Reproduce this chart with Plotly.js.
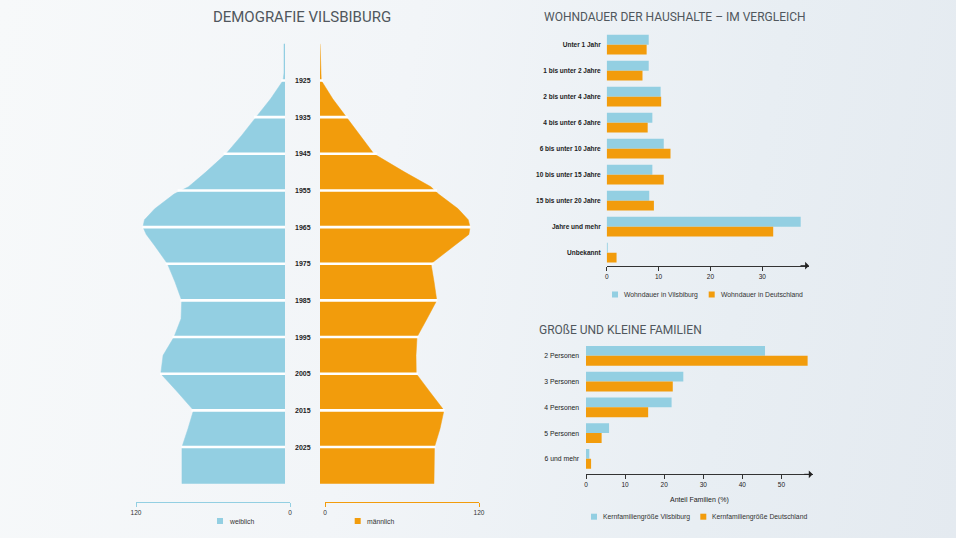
<!DOCTYPE html>
<html>
<head>
<meta charset="utf-8">
<script src="https://cdn.plot.ly/plotly-3.0.1.min.js"></script>
<style>
  html, body { margin:0; padding:0; }
  body { width:956px; height:538px; background: linear-gradient(100deg, #f7f9fa 0%, #f2f5f8 40%, #e8eef3 75%, #e4eaf0 100%); }
  #chart { width:956px; height:538px; }
</style>
</head>
<body>
<div id="chart"></div>
<script>
// ---------- DATA ----------
// Population pyramid (profile by birth year)
const pyrYears   = [1915, 1923, 1925, 1930, 1935, 1940, 1945, 1950, 1954, 1956, 1960, 1963, 1965, 1967, 1970, 1975, 1980, 1985, 1990, 1995, 2000, 2005, 2010, 2015, 2020, 2025, 2035];
const female     = [0.8,  0.8,  1.5,  11.2, 22.6, 33.8, 46.0, 61.7, 75.2, 86.5, 101.5, 109.5, 110.7, 108.1, 101.7, 91.6, 85.7, 80.5, 81.0, 86.5, 95.0, 96.8, 83.8, 71.3, 75.6, 80.3, 80.3];
const male       = [0.0,  0.6,  1.0,  9.9,  20.6, 31.0, 42.0, 66.0, 86.4, 92.4, 107.6, 115.5, 116.9, 116.0, 105.0, 86.5, 88.9, 91.0, 83.4, 75.6, 74.8, 75.0, 85.7, 96.6, 93.5, 89.2, 88.8];
const yearTicks  = [1925, 1935, 1945, 1955, 1965, 1975, 1985, 1995, 2005, 2015, 2025];
const pyrAxisTicks = [0, 120];
const pyrNames   = ['weiblich', 'männlich'];

// Wohndauer der Haushalte
const durCats    = ['Unter 1 Jahr', '1 bis unter 2 Jahre', '2 bis unter 4 Jahre', '4 bis unter 6 Jahre', '6 bis unter 10 Jahre', '10 bis unter 15 Jahre', '15 bis unter 20 Jahre', 'Jahre und mehr', 'Unbekannt'];
const durVils    = [8.1, 8.1, 10.4, 8.8, 11.0, 8.8, 8.2, 37.4, 0.2];
const durDeu     = [7.7, 6.9, 10.5, 7.9, 12.3, 11.0, 9.1, 32.1, 1.9];
const durNames   = ['Wohndauer in Vilsbiburg', 'Wohndauer in Deutschland'];
const durTicks   = [0, 10, 20, 30];

// Große und kleine Familien
const famCats    = ['2 Personen', '3 Personen', '4 Personen', '5 Personen', '6 und mehr'];
const famVils    = [45.8, 24.9, 21.9, 5.9, 0.85];
const famDeu     = [56.7, 22.2, 15.9, 4.0, 1.3];
const famNames   = ['Kernfamiliengröße Vilsbiburg', 'Kernfamiliengröße Deutschland'];
const famTicks   = [0, 10, 20, 30, 40, 50];

// ---------- STYLE ----------
const BLUE = '#93cfe2';
const ORANGE = '#f29c0c';
const W = 956, H = 538;
const px = x => x / W;
const py = y => 1 - y / H;
const FONT = 'Liberation Sans, Arial, sans-serif';
const TITLEFONT = 'Roboto, Open Sans, sans-serif';
const TITLECOLOR = '#50575d';

function interp(xs, ys, x) {
  for (let i = 0; i < xs.length - 1; i++) {
    if (x >= xs[i] && x <= xs[i + 1]) {
      const t = (x - xs[i]) / (xs[i + 1] - xs[i]);
      return ys[i] + t * (ys[i + 1] - ys[i]);
    }
  }
  return 0;
}
function sepTrace(vals, xaxis) {
  const xs = [], ys = [];
  yearTicks.forEach(yr => {
    const w = Math.max(interp(pyrYears, vals, yr - 0.4), interp(pyrYears, vals, yr), interp(pyrYears, vals, yr + 0.4)) + 0.6;
    xs.push(0, w, null); ys.push(yr, yr, null);
  });
  return { x: xs, y: ys, xaxis: xaxis, yaxis: 'y', type: 'scatter', mode: 'lines',
           line: { color: '#ffffff', width: 2.6 }, hoverinfo: 'skip', showlegend: false, connectgaps: false };
}

const data = [
  { x: female, y: pyrYears, xaxis: 'x', yaxis: 'y', type: 'scatter', mode: 'lines', fill: 'tozerox',
    fillcolor: BLUE, line: { color: BLUE, width: 0.5 }, name: pyrNames[0], showlegend: false },
  { x: male, y: pyrYears, xaxis: 'x2', yaxis: 'y', type: 'scatter', mode: 'lines', fill: 'tozerox',
    fillcolor: ORANGE, line: { color: ORANGE, width: 0.5 }, name: pyrNames[1], showlegend: false },
  sepTrace(female, 'x'),
  sepTrace(male, 'x2'),
  { x: [null], y: [null], xaxis: 'x3', yaxis: 'y3', type: 'scatter', showlegend: false, hoverinfo: 'skip' },
  { x: [null], y: [null], xaxis: 'x4', yaxis: 'y3', type: 'scatter', showlegend: false, hoverinfo: 'skip' },
  { y: durCats, x: durVils, type: 'bar', orientation: 'h', xaxis: 'x5', yaxis: 'y5', name: durNames[0],
    marker: { color: BLUE }, showlegend: false },
  { y: durCats, x: durDeu, type: 'bar', orientation: 'h', xaxis: 'x5', yaxis: 'y5', name: durNames[1],
    marker: { color: ORANGE }, showlegend: false },
  { y: famCats, x: famVils, type: 'bar', orientation: 'h', xaxis: 'x6', yaxis: 'y6', name: famNames[0],
    marker: { color: BLUE }, showlegend: false },
  { y: famCats, x: famDeu, type: 'bar', orientation: 'h', xaxis: 'x6', yaxis: 'y6', name: famNames[1],
    marker: { color: ORANGE }, showlegend: false }
];

const annotations = [];
const shapes = [];

// year labels
yearTicks.forEach(yr => annotations.push({
  text: String(yr), x: px(303), xref: 'paper', y: yr, yref: 'y', showarrow: false,
  xanchor: 'center', yanchor: 'middle', font: { family: FONT, size: 7, color: '#222', weight: 700 }
}));

// sub titles
annotations.push({ text: 'WOHNDAUER DER HAUSHALTE – IM VERGLEICH', x: px(542), y: py(17), xref: 'paper', yref: 'paper',
  xanchor: 'left', yanchor: 'middle', showarrow: false, font: { family: TITLEFONT, size: 12, color: TITLECOLOR } });
annotations.push({ text: 'GROßE UND KLEINE FAMILIEN', x: px(537), y: py(330), xref: 'paper', yref: 'paper',
  xanchor: 'left', yanchor: 'middle', showarrow: false, font: { family: TITLEFONT, size: 12, color: TITLECOLOR } });

// axis arrows
['5', '6'].forEach(n => annotations.push({
  text: '', x: 1, y: 0, xref: 'x' + n + ' domain', yref: 'y' + n + ' domain', ax: -10, ay: 0,
  showarrow: true, arrowhead: 1, arrowsize: 1.3, arrowwidth: 1, arrowcolor: '#222', standoff: 0
}));

// manual legends
function legendItem(cx, cy, color, label) {
  shapes.push({ type: 'rect', xref: 'paper', yref: 'paper', x0: px(cx - 3), x1: px(cx + 3), y0: py(cy + 3), y1: py(cy - 3),
    fillcolor: color, line: { width: 0 } });
  annotations.push({ text: label, x: px(cx + 7), y: py(cy), xref: 'paper', yref: 'paper', xanchor: 'left', yanchor: 'middle',
    showarrow: false, font: { family: FONT, size: 6.8, color: '#333' } });
}
legendItem(220, 521, BLUE, pyrNames[0]);
legendItem(357.7, 521, ORANGE, pyrNames[1]);
legendItem(615, 294.5, BLUE, durNames[0]);
legendItem(711.7, 294.5, ORANGE, durNames[1]);
legendItem(594, 516.7, BLUE, famNames[0]);
legendItem(703.3, 516.7, ORANGE, famNames[1]);

const hidden = { visible: false, fixedrange: true };
const layout = {
  width: W, height: H, margin: { l: 0, r: 0, t: 0, b: 0 },
  paper_bgcolor: 'rgba(0,0,0,0)', plot_bgcolor: 'rgba(0,0,0,0)',
  showlegend: false, barmode: 'group', bargap: 0.24, bargroupgap: 0,
  font: { family: FONT, color: '#222' },
  title: { text: 'DEMOGRAFIE VILSBIBURG', x: px(302), y: py(17), xanchor: 'center', yanchor: 'middle', xref: 'paper', yref: 'paper',
           font: { family: TITLEFONT, size: 15, color: TITLECOLOR } },
  xaxis:  Object.assign({ domain: [px(131), px(285)], range: [120, 0], anchor: 'y' }, hidden),
  xaxis2: Object.assign({ domain: [px(320), px(474)], range: [0, 120], anchor: 'y' }, hidden),
  yaxis:  Object.assign({ domain: [py(490.98), py(36.52)], range: [2037, 1913], anchor: 'x' }, hidden),
  xaxis3: { domain: [px(136), px(290)], range: [120, 0], anchor: 'y3', showline: true, linecolor: BLUE, linewidth: 1,
            ticks: 'outside', ticklen: 4, tickcolor: BLUE, tickvals: pyrAxisTicks, showgrid: false, zeroline: false,
            tickfont: { size: 6.5, color: '#333' }, fixedrange: true },
  xaxis4: { domain: [px(325), px(479)], range: [0, 120], anchor: 'y3', showline: true, linecolor: ORANGE, linewidth: 1,
            ticks: 'outside', ticklen: 4, tickcolor: ORANGE, tickvals: pyrAxisTicks, showgrid: false, zeroline: false,
            tickfont: { size: 6.5, color: '#333' }, fixedrange: true },
  yaxis3: Object.assign({ domain: [py(501.7), py(495)], range: [0, 1], anchor: 'x3' }, hidden),
  xaxis5: { domain: [px(606.7), px(809)], range: [0, 39], anchor: 'y5', showline: true, linecolor: '#333', linewidth: 1,
            ticks: 'outside', ticklen: 4, tickcolor: '#333', tickvals: durTicks, showgrid: false, zeroline: false,
            tickfont: { size: 6.5, color: '#222' }, fixedrange: true },
  yaxis5: { domain: [py(265.7), py(31.7)], anchor: 'x5', type: 'category', range: [8.5, -0.5], showline: false,
            ticks: '', showgrid: false, zeroline: false, ticklabelstandoff: 5,
            tickfont: { size: 6.5, color: '#222', weight: 700 }, fixedrange: true },
  xaxis6: { domain: [px(586), px(812.7)], range: [0, 58], anchor: 'y6', showline: true, linecolor: '#333', linewidth: 1,
            ticks: 'outside', ticklen: 4, tickcolor: '#333', tickvals: famTicks, showgrid: false, zeroline: false,
            tickfont: { size: 6.5, color: '#222' }, fixedrange: true,
            title: { text: 'Anteil Familien (%)', font: { size: 7, color: '#222' }, standoff: 10 } },
  yaxis6: { domain: [py(474.3), py(343)], anchor: 'x6', type: 'category', range: [4.6, -0.5], showline: false,
            ticks: '', showgrid: false, zeroline: false, ticklabelstandoff: 6,
            tickfont: { size: 6.8, color: '#222' }, fixedrange: true },
  annotations: annotations,
  shapes: shapes
};

Plotly.newPlot('chart', data, layout, { staticPlot: true, displayModeBar: false });
</script>
</body>
</html>
